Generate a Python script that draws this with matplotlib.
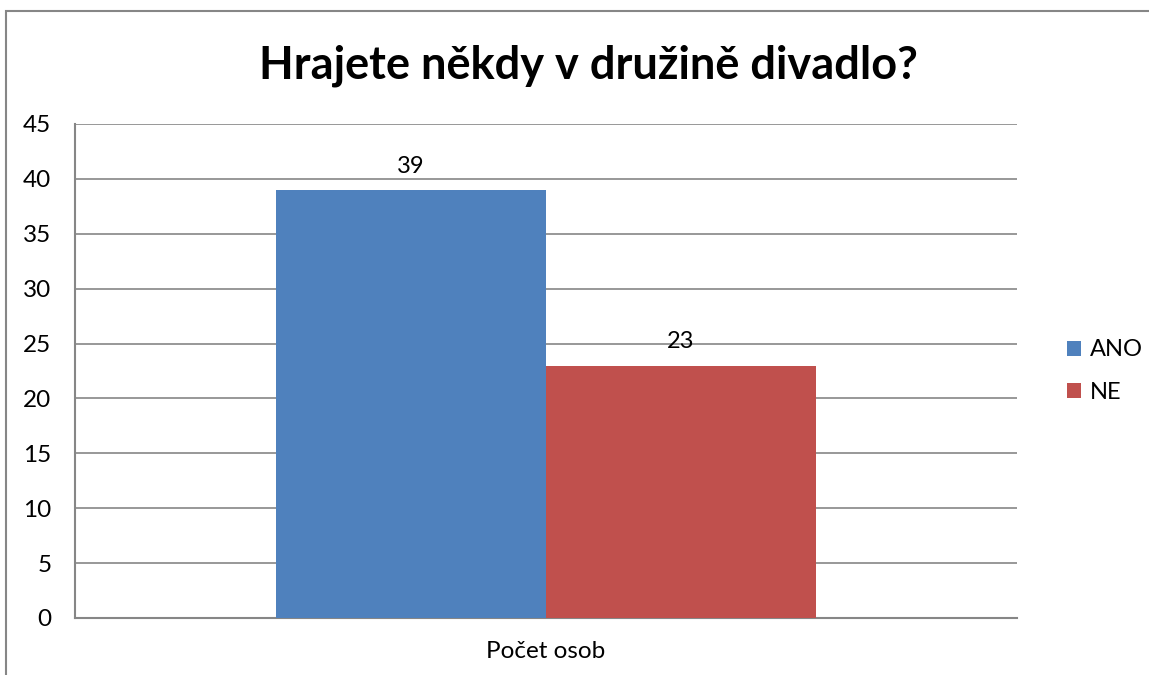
import matplotlib.pyplot as plt
from matplotlib.patches import Rectangle

# data
series = ['ANO', 'NE']
values = [39, 23]
colors = ['#4F81BD', '#C0504D']
category = 'Počet osob'
title = 'Hrajete někdy v družině divadlo?'

plt.rcParams['font.family'] = ['Lato', 'DejaVu Sans']

fig = plt.figure(figsize=(11.49, 6.75), dpi=100)
ax = fig.add_axes([75/1149, 57/675, 942/1149, 494/675])

width = 270/942
offsets = [-width/2, width/2]
for name, val, col, off in zip(series, values, colors, offsets):
    ax.bar(off, val, width=width, color=col, label=name, zorder=3)
    ax.text(off, val + 1.2, str(val), ha='center', va='bottom', fontsize=17)

ax.set_xlim(-0.5, 0.5)
ax.set_ylim(0, 45)
ax.set_yticks(range(0, 46, 5))
ax.set_xticks([])
ax.tick_params(axis='y', length=0, labelsize=17.5, pad=17)
ax.grid(axis='y', color='#868686', linewidth=1.2, zorder=0)
for s in ['top', 'right']:
    ax.spines[s].set_visible(False)
for s in ['left', 'bottom']:
    ax.spines[s].set_color('#868686')
    ax.spines[s].set_linewidth(1.5)

fig.text(546/1149, 1 - 652/675, category, ha='center', va='center', fontsize=17.5)
fig.text(588/1149, 1 - 66/675, title, ha='center', va='center',
         fontsize=32.5, fontweight='bold')

ax.legend(loc='center left', bbox_to_anchor=(1.03, 0.5), frameon=False,
          fontsize=17, handlelength=0.6, handleheight=0.6, labelspacing=0.9,
          handletextpad=0.4)

# outer chart border
fig.patches.append(Rectangle((6/1149, -0.1), 1.2, 1 - 11/675 + 0.1,
                             transform=fig.transFigure, fill=False,
                             edgecolor='#868686', linewidth=1.5))

fig.savefig('out.png', dpi=100)
